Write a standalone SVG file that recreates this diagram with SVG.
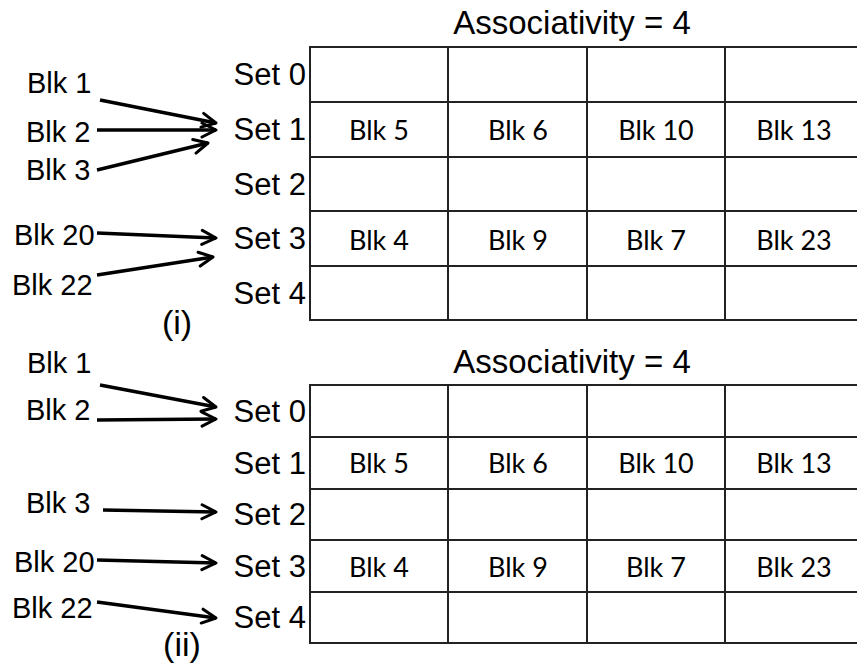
<svg xmlns="http://www.w3.org/2000/svg" width="857" height="666" viewBox="0 0 857 666">
<style>
.lbl{font-family:"Liberation Sans",Arial,sans-serif;font-size:29px;fill:#000}
.set{font-family:"Liberation Sans",Arial,sans-serif;font-size:31px;fill:#000;text-anchor:end}
.ttl{font-family:"Liberation Sans",Arial,sans-serif;font-size:33px;fill:#000;text-anchor:middle}
.par{font-family:"Liberation Sans",Arial,sans-serif;font-size:34px;fill:#000;text-anchor:middle}
.cell{font-family:Lato,"Open Sans",sans-serif;font-size:27px;fill:#000;text-anchor:middle}
.grid{fill:none;stroke:#222;stroke-width:2}
.arr{stroke:#000;stroke-width:3.4;fill:none;marker-end:url(#ah)}
</style>
<defs>
<marker id="ah" viewBox="0 0 18 18" refX="16" refY="9" markerWidth="18" markerHeight="18" markerUnits="userSpaceOnUse" orient="auto">
<path d="M2,2 L16,9 L2,16" fill="none" stroke="#000" stroke-width="3" stroke-linecap="round" stroke-linejoin="round"/>
</marker>
</defs>
<rect width="857" height="666" fill="#fff"/>

<g id="table-i">
<text class="ttl" x="572" y="34">Associativity = 4</text>
<rect class="grid" x="310" y="47" width="560" height="273"/>
<path class="grid" d="M448,47V320M587,47V320M725,47V320M310,102H870M310,157H870M310,211H870M310,266H870"/>
<text class="set" x="306" y="85">Set 0</text>
<text class="set" x="306" y="140">Set 1</text>
<text class="set" x="306" y="195">Set 2</text>
<text class="set" x="306" y="249">Set 3</text>
<text class="set" x="306" y="304">Set 4</text>
<text class="cell" x="379" y="140">Blk 5</text>
<text class="cell" x="518" y="140">Blk 6</text>
<text class="cell" x="656" y="140">Blk 10</text>
<text class="cell" x="794" y="140">Blk 13</text>
<text class="cell" x="379" y="250">Blk 4</text>
<text class="cell" x="518" y="250">Blk 9</text>
<text class="cell" x="656" y="250">Blk 7</text>
<text class="cell" x="794" y="250">Blk 23</text>
</g>

<g id="blocks-i">
<text class="lbl" x="27" y="93">Blk 1</text>
<text class="lbl" x="26" y="142">Blk 2</text>
<text class="lbl" x="26" y="180">Blk 3</text>
<text class="lbl" x="14" y="245">Blk 20</text>
<text class="lbl" x="12" y="295">Blk 22</text>
<text class="par" x="177" y="334">(i)</text>
</g>

<g id="table-ii">
<text class="ttl" x="572" y="373">Associativity = 4</text>
<rect class="grid" x="310" y="385" width="560" height="258"/>
<path class="grid" d="M448,385V643M587,385V643M725,385V643M310,437H870M310,489H870M310,540H870M310,592H870"/>
<text class="set" x="306" y="422">Set 0</text>
<text class="set" x="306" y="474">Set 1</text>
<text class="set" x="306" y="525">Set 2</text>
<text class="set" x="306" y="577">Set 3</text>
<text class="set" x="306" y="628">Set 4</text>
<text class="cell" x="379" y="473">Blk 5</text>
<text class="cell" x="518" y="473">Blk 6</text>
<text class="cell" x="656" y="473">Blk 10</text>
<text class="cell" x="794" y="473">Blk 13</text>
<text class="cell" x="379" y="577">Blk 4</text>
<text class="cell" x="518" y="577">Blk 9</text>
<text class="cell" x="656" y="577">Blk 7</text>
<text class="cell" x="794" y="577">Blk 23</text>
</g>

<g id="blocks-ii">
<text class="lbl" x="27" y="373">Blk 1</text>
<text class="lbl" x="26" y="420">Blk 2</text>
<text class="lbl" x="26" y="513">Blk 3</text>
<text class="lbl" x="14" y="572">Blk 20</text>
<text class="lbl" x="12" y="618">Blk 22</text>
<text class="par" x="182" y="656">(ii)</text>
</g>

<g id="connectors">
<line class="arr" x1="100" y1="100" x2="216" y2="123"/>
<line class="arr" x1="97" y1="130" x2="216" y2="130"/>
<line class="arr" x1="97" y1="170" x2="208" y2="143"/>
<line class="arr" x1="97" y1="233" x2="216" y2="238"/>
<line class="arr" x1="97" y1="275" x2="213" y2="257"/>
<line class="arr" x1="100" y1="385" x2="216" y2="407"/>
<line class="arr" x1="97" y1="420" x2="216" y2="419"/>
<line class="arr" x1="103" y1="510" x2="216" y2="512"/>
<line class="arr" x1="97" y1="560" x2="216" y2="563"/>
<line class="arr" x1="97" y1="602" x2="216" y2="618"/>
</g>
</svg>
